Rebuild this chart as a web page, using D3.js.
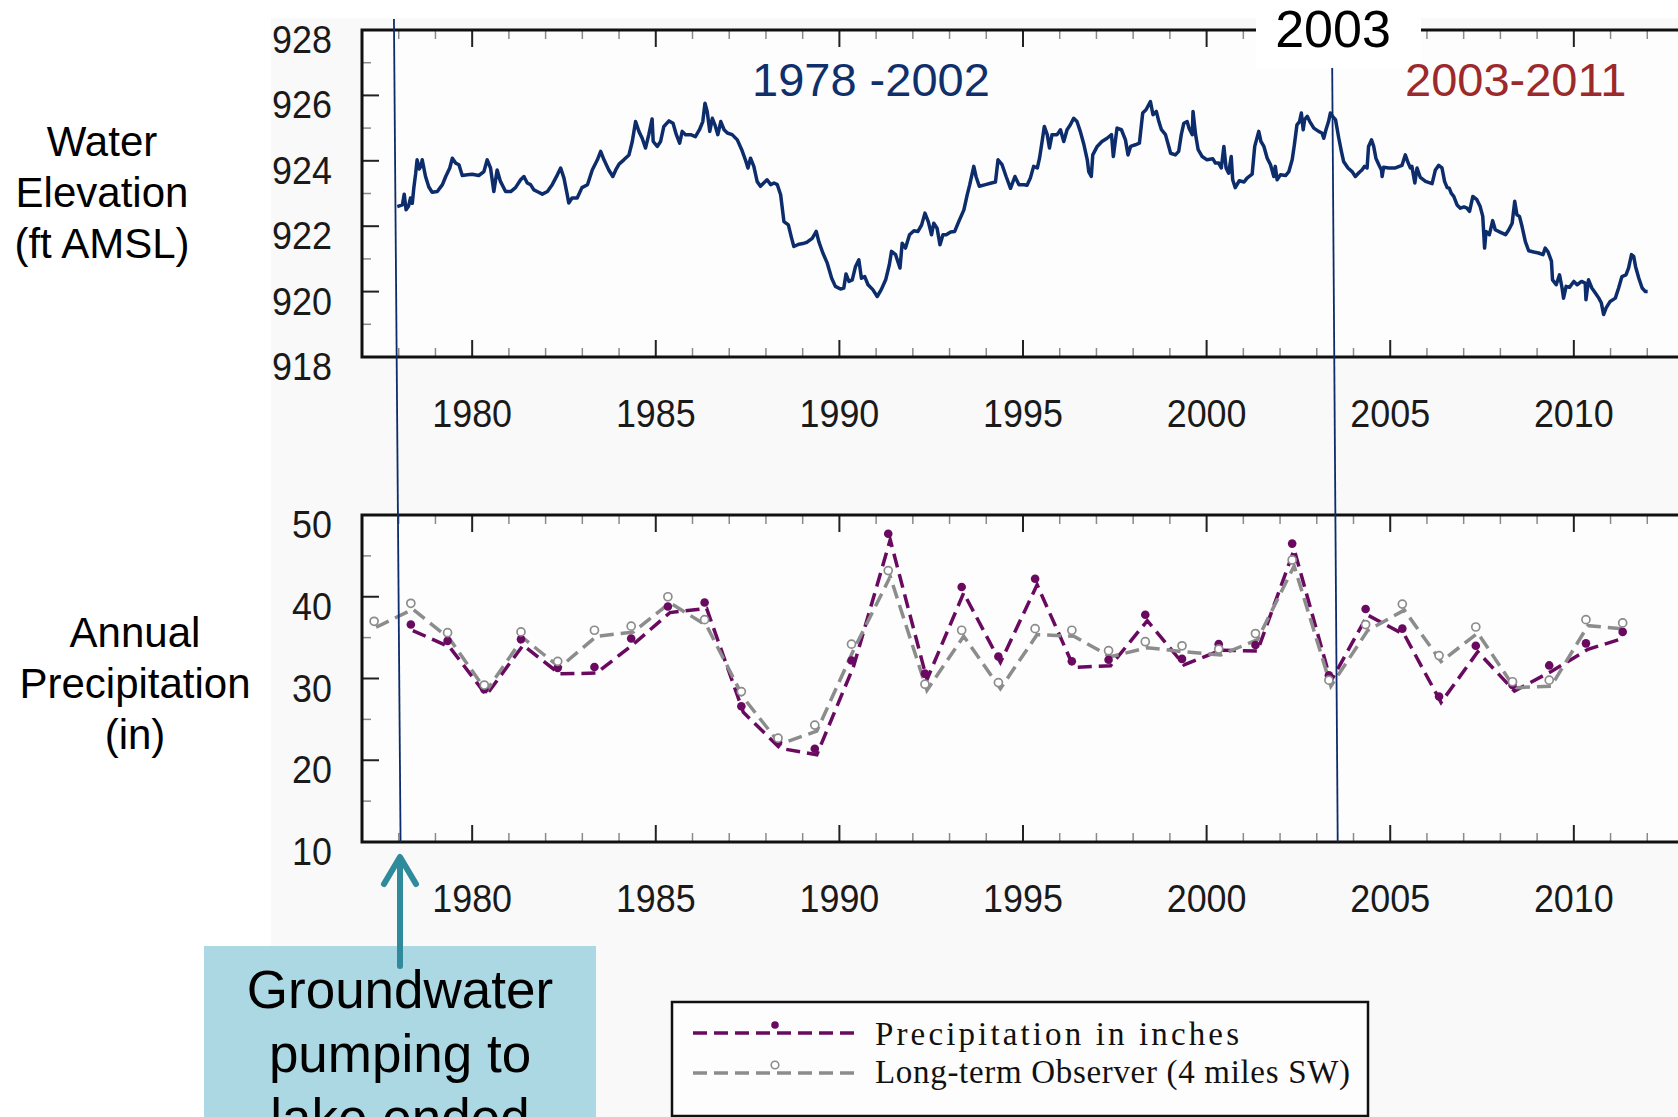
<!DOCTYPE html>
<html>
<head>
<meta charset="utf-8">
<script src="https://cdn.jsdelivr.net/npm/d3@7"></script>
<style>
  html, body { margin: 0; padding: 0; background: #fff; }
  svg { display: block; font-family: "Liberation Sans", Arial, sans-serif; }
</style>
</head>
<body>
<svg id="chart" width="1678" height="1117"></svg>
<script>
// ---- Lake water elevation (ft AMSL), sampled along the record ----
const elevYears = [
  1977.96,1978.10,1978.15,1978.20,1978.27,1978.32,1978.37,1978.41,1978.46,1978.50,1978.56,1978.60,1978.64,1978.73,1978.82,1978.91,
  1979.05,1979.19,1979.28,1979.39,1979.46,1979.55,1979.64,1979.73,1979.87,
  1980.00,1980.18,1980.32,1980.41,1980.50,1980.59,1980.68,1980.77,1980.91,
  1981.05,1981.18,1981.32,1981.41,1981.50,1981.59,1981.68,1981.77,1981.91,
  1982.05,1982.18,1982.32,1982.41,1982.50,1982.59,1982.63,1982.72,1982.86,1982.99,
  1983.14,1983.27,1983.41,1983.50,1983.59,1983.72,1983.83,1983.91,
  1984.00,1984.13,1984.27,1984.36,1984.45,1984.54,1984.63,1984.72,1984.81,1984.90,1984.93,
  1985.04,1985.13,1985.22,1985.36,1985.47,1985.56,1985.65,1985.72,1985.81,1985.95,
  1986.08,1986.19,1986.28,1986.34,1986.40,1986.47,1986.54,1986.61,1986.69,1986.77,1986.86,1986.95,
  1987.08,1987.22,1987.34,1987.44,1987.51,1987.58,1987.67,1987.76,1987.85,1987.94,
  1988.03,1988.13,1988.22,1988.31,1988.40,1988.49,1988.61,1988.70,1988.76,1988.90,
  1989.04,1989.12,1989.26,1989.37,1989.44,1989.55,1989.67,1989.79,1989.89,
  1990.03,1990.12,1990.18,1990.26,1990.35,1990.44,1990.53,1990.60,1990.69,1990.78,1990.91,
  1991.03,1991.14,1991.26,1991.36,1991.42,1991.53,1991.65,1991.71,1991.80,1991.91,
  1992.03,1992.14,1992.24,1992.33,1992.42,1992.51,1992.57,1992.66,1992.74,1992.82,1992.91,
  1993.03,1993.14,1993.25,1993.39,1993.48,1993.55,1993.66,1993.72,1993.81,1993.98,
  1994.14,1994.25,1994.32,1994.43,1994.54,1994.66,1994.78,1994.89,
  1995.03,1995.11,1995.20,1995.29,1995.39,1995.45,1995.52,1995.58,1995.66,1995.72,1995.79,1995.93,
  1996.02,1996.11,1996.20,1996.29,1996.38,1996.47,1996.56,1996.66,1996.75,1996.79,1996.86,1996.90,
  1997.02,1997.15,1997.29,1997.41,1997.46,1997.56,1997.68,1997.79,1997.86,1997.93,
  1998.06,1998.17,1998.26,1998.35,1998.47,1998.54,1998.63,1998.70,1998.77,1998.88,1998.97,
  1999.02,1999.15,1999.24,1999.31,1999.38,1999.47,1999.52,1999.61,1999.63,1999.70,1999.77,1999.88,
  2000.01,2000.17,2000.24,2000.33,2000.40,2000.47,2000.53,2000.60,2000.67,2000.71,2000.78,2000.89,
  2001.02,2001.10,2001.24,2001.31,2001.42,2001.48,2001.56,2001.65,2001.74,2001.83,2001.87,2001.92,
  2002.01,2002.15,2002.24,2002.33,2002.39,2002.46,2002.53,2002.58,2002.63,2002.67,2002.74,2002.81,2002.92,
  2003.05,2003.14,2003.19,2003.25,2003.32,2003.37,2003.43,2003.51,2003.60,2003.67,2003.73,2003.85,2003.96,
  2004.05,2004.16,2004.23,2004.30,2004.37,2004.41,2004.49,2004.55,2004.61,2004.69,2004.76,2004.78,2004.82,2004.96,
  2005.14,2005.32,2005.41,2005.49,2005.55,2005.59,2005.67,2005.73,2005.82,2005.96,
  2006.14,2006.23,2006.32,2006.41,2006.48,2006.55,2006.61,2006.66,2006.73,2006.82,2006.91,
  2007.01,2007.09,2007.16,2007.25,2007.36,2007.45,2007.52,2007.57,2007.61,2007.70,2007.79,2007.86,2007.99,
  2008.14,2008.23,2008.32,2008.39,2008.45,2008.52,2008.59,2008.68,2008.77,2008.91,
  2009.04,2009.16,2009.22,2009.30,2009.39,2009.42,2009.52,2009.61,2009.68,2009.72,2009.79,2009.88,
  2010.00,2010.09,2010.21,2010.31,2010.33,2010.40,2010.49,2010.59,2010.68,2010.75,2010.81,2010.88,2010.99,
  2011.13,2011.22,2011.31,2011.42,2011.49,2011.57,2011.63,2011.68,2011.77,2011.86,2011.95,2012.01
];
const elevFeet = [
  922.60,922.65,922.98,922.50,922.62,922.86,922.70,923.16,923.60,924.03,923.75,923.83,924.03,923.52,923.20,923.04,
  923.06,923.27,923.52,923.78,924.08,923.93,923.88,923.55,923.57,
  923.59,923.55,923.67,924.03,923.78,923.06,923.72,923.37,923.06,
  923.06,923.18,923.42,923.52,923.32,923.27,923.11,923.06,922.98,
  923.06,923.27,923.57,923.78,923.47,922.96,922.71,922.86,922.86,923.18,
  923.27,923.72,924.03,924.29,924.03,923.72,923.52,923.72,
  923.90,924.03,924.18,924.59,925.20,924.90,924.69,924.39,924.80,925.28,924.59,
  924.44,924.59,925.05,925.22,925.15,924.80,924.54,924.90,924.80,924.80,
  924.74,924.95,925.20,925.76,925.51,924.90,925.30,925.10,924.80,925.20,924.95,924.85,
  924.80,924.64,924.34,924.03,923.78,924.08,923.83,923.37,923.22,923.32,
  923.42,923.27,923.32,923.27,922.96,922.14,922.04,921.63,921.38,921.45,
  921.48,921.51,921.63,921.84,921.53,921.18,920.87,920.41,920.16,
  920.08,920.11,920.54,920.31,920.36,920.77,920.97,920.41,920.46,920.21,920.06,
  919.85,920.06,920.36,920.82,921.23,921.13,920.72,921.48,921.33,921.74,
  921.86,921.84,922.04,922.40,922.14,921.74,922.09,921.94,921.43,921.74,921.74,
  921.82,921.84,922.14,922.50,922.96,923.27,923.83,923.52,923.22,923.27,
  923.32,923.35,924.03,923.88,923.52,923.16,923.52,923.27,
  923.27,923.25,923.47,923.83,923.78,924.08,924.59,925.05,924.80,924.39,924.80,924.80,
  924.95,924.59,924.95,925.10,925.30,925.20,924.90,924.49,924.03,923.67,923.52,924.18,
  924.44,924.59,924.69,924.80,924.13,925.00,924.95,924.64,924.18,924.44,
  924.49,924.54,925.46,925.56,925.81,925.41,925.51,925.20,924.95,924.80,924.44,
  924.23,924.18,924.29,924.80,925.15,925.20,925.00,924.80,925.51,924.80,924.34,924.13,
  924.03,924.06,923.93,923.93,923.78,924.44,923.78,923.62,924.13,923.42,923.18,923.39,
  923.35,923.47,923.59,924.44,924.90,924.59,924.44,924.08,923.88,923.52,923.83,923.42,
  923.57,923.55,923.67,924.03,924.49,925.10,925.20,925.46,924.95,925.26,925.36,925.20,925.00,
  924.90,924.85,924.69,924.95,925.20,925.46,925.36,925.26,924.69,924.29,923.98,923.78,923.67,
  923.52,923.65,923.72,923.83,923.78,924.44,924.64,924.44,924.08,923.88,923.72,923.52,923.80,923.78,
  923.78,923.86,924.18,923.93,923.78,923.83,923.32,923.78,923.49,923.37,
  923.30,923.72,923.86,923.78,923.37,923.18,923.16,923.01,922.91,922.65,922.55,
  922.59,922.55,922.45,922.91,922.81,922.60,922.30,921.33,921.84,921.74,922.17,921.89,921.82,
  921.74,921.89,922.09,922.76,922.35,922.30,921.99,921.53,921.25,921.21,
  921.18,921.13,921.33,921.21,920.93,920.36,920.21,920.51,920.11,919.80,920.16,920.13,
  920.31,920.21,920.31,920.26,919.75,920.36,920.11,919.95,919.80,919.65,919.30,919.50,919.70,
  919.80,920.11,920.46,920.51,920.72,921.13,921.08,920.77,920.41,920.11,920.00,920.00
];

// ---- Annual precipitation (in) ----
const precipYears = d3.range(1978, 2012);
const precipInches = [
  36.6, 34.6, 28.7, 34.8, 31.3, 31.4, 34.9, 38.8, 39.3, 26.6,
  22.2, 21.4, 32.2, 47.7, 30.6, 41.2, 32.7, 42.2, 32.1, 32.3,
  37.8, 32.4, 34.2, 34.1, 46.5, 30.4, 38.5, 36.1, 27.8, 34.0,
  29.2, 31.6, 34.3, 35.7
];
const observerYears = d3.range(1977, 2012);
const observerInches = [
  37.0, 39.2, 35.6, 29.2, 35.7, 32.1, 35.9, 36.4, 40.0, 37.2,
  28.4, 22.7, 24.3, 34.2, 43.2, 29.3, 35.9, 29.5, 36.1, 35.9,
  33.4, 34.5, 34.0, 33.6, 35.5, 44.5, 29.8, 36.6, 39.1, 32.8,
  36.3, 29.6, 29.8, 37.2, 36.8
];

// ---- Axis ticks ----
const yearTicks = [1980, 1985, 1990, 1995, 2000, 2005, 2010];
const yearMinorTicks = d3.range(1978, 2013).filter(y => y % 5 !== 0);
const elevTicks = [918, 920, 922, 924, 926, 928];
const elevMinorTicks = [919, 921, 923, 925, 927];
const precipTicks = [10, 20, 30, 40, 50];
const precipMinorTicks = [15, 25, 35, 45];

// ---- Period markers and notes ----
const periodLabels = ["1978 -2002", "2003-2011"];
const markerLabel = "2003";
const pumpingNote = ["Groundwater", "pumping to", "lake ended"];
const legendLabels = ["Precipitation in inches", "Long-term Observer (4 miles SW)"];

// annual totals are plotted a third of the way into their year
const yearAnchor = 0.33;

const W = 1678, H = 1117;
const svg = d3.select("#chart");

const NAVY = "#0d2c6b", PURPLE = "#690a60", GREY = "#8c8c8c", TEAL = "#2f8a9c";

const x = d3.scaleLinear().domain([1977, 2013]).range([362, 1684]);
const yElev = d3.scaleLinear().domain([918, 928]).range([357, 30]);
const yPrec = d3.scaleLinear().domain([10, 50]).range([842, 515]);

// light backdrop behind both panels
svg.append("rect").attr("x", 271).attr("y", 18).attr("width", W - 271).attr("height", H - 18).attr("fill", "#f9f9f9");

// condense tick label glyphs slightly
function condense(sel, k) {
  sel.each(function () {
    const w = this.getComputedTextLength();
    this.setAttribute("textLength", (w * k).toFixed(1));
    this.setAttribute("lengthAdjust", "spacingAndGlyphs");
  });
}

function drawFrame(y, major, minor) {
  const [bottom, top] = y.range();
  const left = x(1977);
  const g = svg.append("g");
  g.append("rect").attr("x", left).attr("y", top).attr("width", W - left).attr("height", bottom - top).attr("fill", "#fdfdfd");

  // year ticks along top (pointing down) and bottom (pointing up)
  const tickRows = [[top, 1], [bottom, -1]];
  tickRows.forEach(([yy, dir]) => {
    g.selectAll(null).data(yearMinorTicks).join("line")
      .attr("x1", d => x(d)).attr("x2", d => x(d))
      .attr("y1", yy).attr("y2", yy + dir * 9)
      .attr("stroke", "#8a8a8a").attr("stroke-width", 1.5);
    g.selectAll(null).data(yearTicks).join("line")
      .attr("x1", d => x(d)).attr("x2", d => x(d))
      .attr("y1", yy).attr("y2", yy + dir * 17)
      .attr("stroke", "#222").attr("stroke-width", 2);
  });
  // value ticks along the left edge
  g.selectAll(null).data(minor).join("line")
    .attr("x1", left).attr("x2", left + 9)
    .attr("y1", d => y(d)).attr("y2", d => y(d))
    .attr("stroke", "#8a8a8a").attr("stroke-width", 1.5);
  g.selectAll(null).data(major).join("line")
    .attr("x1", left).attr("x2", left + 17)
    .attr("y1", d => y(d)).attr("y2", d => y(d))
    .attr("stroke", "#222").attr("stroke-width", 2);

  // frame
  g.append("path")
    .attr("d", `M${W},${top}H${left}V${bottom}H${W}`)
    .attr("fill", "none").attr("stroke", "#111").attr("stroke-width", 3);

  // labels
  const yl = g.selectAll(null).data(major).join("text")
    .attr("x", left - 30).attr("y", d => y(d) + 23)
    .attr("text-anchor", "end").attr("font-size", 39).attr("fill", "#1a1a1a")
    .text(d => d);
  condense(yl, 0.92);
  const xl = g.selectAll(null).data(yearTicks).join("text")
    .attr("x", d => x(d)).attr("y", bottom + 70)
    .attr("text-anchor", "middle").attr("font-size", 39).attr("fill", "#1a1a1a")
    .text(d => d);
  condense(xl, 0.92);
}

drawFrame(yElev, elevTicks, elevMinorTicks);
drawFrame(yPrec, precipTicks, precipMinorTicks);

// ---- water elevation trace ----
const elevData = elevYears.map((t, i) => [t, elevFeet[i]]);
svg.append("path")
  .datum(elevData)
  .attr("d", d3.line().x(d => x(d[0])).y(d => yElev(d[1])))
  .attr("fill", "none").attr("stroke", NAVY).attr("stroke-width", 3.5)
  .attr("stroke-linejoin", "round");

// ---- precipitation series ----
const precipData = precipYears.map((t, i) => [t + yearAnchor, precipInches[i]]);
const observerData = observerYears.map((t, i) => [t + yearAnchor, observerInches[i]]);
const precipLine = d3.line().x(d => x(d[0])).y(d => yPrec(d[1]));

// dashed connectors sit a few pixels below/right of their markers
const lines = svg.append("g").attr("transform", "translate(2,6)");
lines.append("path").datum(precipData).attr("d", precipLine)
  .attr("fill", "none").attr("stroke", PURPLE).attr("stroke-width", 3.5)
  .attr("stroke-dasharray", "14,7");
lines.append("path").datum(observerData).attr("d", precipLine)
  .attr("fill", "none").attr("stroke", GREY).attr("stroke-width", 3.5)
  .attr("stroke-dasharray", "14,7");

svg.append("g").selectAll("circle").data(precipData).join("circle")
  .attr("cx", d => x(d[0])).attr("cy", d => yPrec(d[1])).attr("r", 4.3)
  .attr("fill", PURPLE);
svg.append("g").selectAll("circle").data(observerData).join("circle")
  .attr("cx", d => x(d[0])).attr("cy", d => yPrec(d[1])).attr("r", 4)
  .attr("fill", "#fff").attr("stroke", GREY).attr("stroke-width", 1.7);

// ---- period dividers ----
svg.append("line")
  .attr("x1", x(1977.87)).attr("y1", 19).attr("x2", x(1978.05)).attr("y2", yPrec(10))
  .attr("stroke", NAVY).attr("stroke-width", 1.8);

svg.append("rect").attr("x", 1256).attr("y", 0).attr("width", 165).attr("height", 68).attr("fill", "#fff");
svg.append("text").attr("x", 1333).attr("y", 47).attr("text-anchor", "middle")
  .attr("font-size", 52).attr("fill", "#000").text(markerLabel);

svg.append("line")
  .attr("x1", x(2003.42)).attr("y1", 68).attr("x2", x(2003.57)).attr("y2", yPrec(10))
  .attr("stroke", NAVY).attr("stroke-width", 1.8);

svg.append("text").attr("x", 752).attr("y", 96).attr("font-size", 47)
  .attr("fill", "#10306c").text(periodLabels[0]);
svg.append("text").attr("x", 1405).attr("y", 96).attr("font-size", 47)
  .attr("fill", "#9c2a2c").text(periodLabels[1]);

// ---- axis titles ----
const titles = [
  { cx: 102, lines: ["Water", "Elevation", "(ft AMSL)"], y0: 156 },
  { cx: 135, lines: ["Annual", "Precipitation", "(in)"], y0: 647 }
];
titles.forEach(t => {
  svg.append("g").selectAll("text").data(t.lines).join("text")
    .attr("x", t.cx).attr("y", (d, i) => t.y0 + i * 51)
    .attr("text-anchor", "middle").attr("font-size", 42).attr("fill", "#000")
    .text(d => d);
});

// ---- pumping note with arrow (the box runs off the bottom edge) ----
svg.append("rect").attr("x", 204).attr("y", 946).attr("width", 392).attr("height", H - 946 + 10)
  .attr("fill", "#abd8e2");
svg.append("g").selectAll("text").data(pumpingNote).join("text")
  .attr("x", 400).attr("y", (d, i) => 1008 + i * 64)
  .attr("text-anchor", "middle").attr("font-size", 53).attr("fill", "#000")
  .text(d => d);
svg.append("path")
  .attr("d", "M400,966V858M384,884L400,857L416,884")
  .attr("fill", "none").attr("stroke", TEAL).attr("stroke-width", 6)
  .attr("stroke-linecap", "round").attr("stroke-linejoin", "round");

// ---- legend ----
const lg = svg.append("g");
lg.append("rect").attr("x", 672).attr("y", 1002).attr("width", 696).attr("height", 114)
  .attr("fill", "#fdfdfd").attr("stroke", "#111").attr("stroke-width", 2.5);
const legendRows = [
  { color: PURPLE, y: 1033, filled: true, label: legendLabels[0], base: 1045, len: 364 },
  { color: GREY, y: 1073, filled: false, label: legendLabels[1], base: 1083, len: 475 }
];
legendRows.forEach(r => {
  lg.append("line").attr("x1", 693).attr("x2", 856).attr("y1", r.y).attr("y2", r.y)
    .attr("stroke", r.color).attr("stroke-width", 3.5).attr("stroke-dasharray", "14,7");
  lg.append("circle").attr("cx", 775).attr("cy", r.y - 8).attr("r", 3.8)
    .attr("fill", r.filled ? r.color : "#fff")
    .attr("stroke", r.filled ? "none" : r.color).attr("stroke-width", 1.6);
  lg.append("text").attr("x", 875).attr("y", r.base)
    .attr("font-family", "'Liberation Serif', 'Times New Roman', serif")
    .attr("font-size", 33).attr("fill", "#111")
    .attr("textLength", r.len).attr("lengthAdjust", "spacing")
    .text(r.label);
});
</script>
</body>
</html>
